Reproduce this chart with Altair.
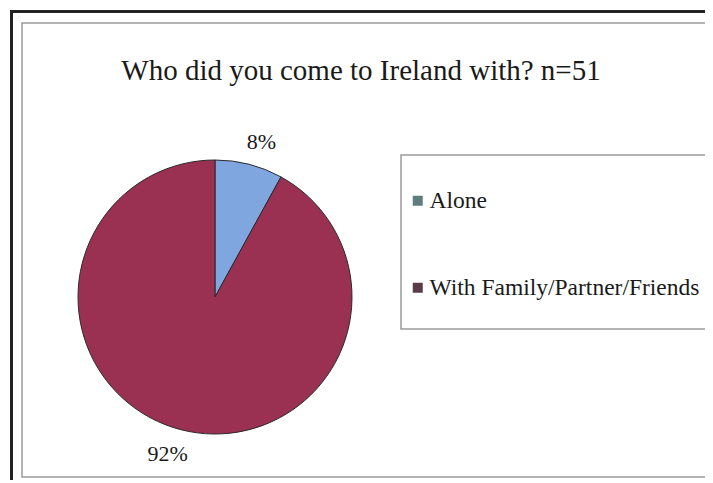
import altair as alt
import pandas as pd

categories = ["Alone", "With Family/Partner/Friends"]
percents = [8, 92]
labels = ["8%", "92%"]
slice_colors = ["#7fa6df", "#9b3152"]
swatch_colors = ["#5f7d7e", "#5b3a49"]

df = pd.DataFrame({"cat": categories, "pct": percents, "label": labels,
                   "order": [0, 1]})

W, H = 697, 472
CX, CY, R = 205, 289, 137
FONT = "Liberation Serif"

base = alt.Chart(df)

pie = base.mark_arc(stroke="#2a2a2a", strokeWidth=1, outerRadius=R).encode(
    theta=alt.Theta("pct:Q", stack=True),
    order=alt.Order("order:Q"),
    color=alt.Color("cat:N", scale=alt.Scale(domain=categories, range=slice_colors), legend=None),
    x=alt.value(CX), y=alt.value(CY),
)

# mid-angle of each slice, computed from the data
text_base = base.transform_window(
    cum="sum(pct)", sort=[alt.SortField("order")], frame=[None, 0]
).transform_calculate(mid="datum.cum - datum.pct / 2")


def label_layer(idx, dx, dy):
    return text_base.transform_filter(alt.datum.order == idx).mark_text(
        radius=162, font=FONT, fontSize=22, color="#1a1a1a", baseline="middle", dx=dx, dy=dy
    ).encode(
        theta=alt.Theta("mid:Q", stack=None, scale=alt.Scale(domain=[0, 100])),
        text="label:N",
        x=alt.value(CX), y=alt.value(CY),
    )


lab_alone = label_layer(0, 6, 2)
lab_family = label_layer(1, -7, 0)

legend_layer = base.mark_square(opacity=0, size=1).encode(
    x=alt.value(CX), y=alt.value(CY),
    fill=alt.Fill("cat:N", scale=alt.Scale(domain=categories, range=swatch_colors),
                  legend=alt.Legend(title=None, orient="none", legendX=396, legendY=181,
                                    symbolType="square", symbolSize=100, symbolOpacity=1,
                                    symbolStrokeWidth=0, labelFont=FONT, labelFontSize=23.5,
                                    labelColor="#1a1a1a", labelOffset=0, rowPadding=62,
                                    labelLimit=400)),
)

frame_dummy = pd.DataFrame({"k": [0]})
fb = alt.Chart(frame_dummy)
inner = fb.mark_rect(fill="white", stroke="#9a9a9a", strokeWidth=1.5).encode(
    x=alt.value(12), x2=alt.value(696), y=alt.value(15), y2=alt.value(469))
legbox = fb.mark_rect(fill="white", stroke="#9a9a9a", strokeWidth=1.5).encode(
    x=alt.value(391), x2=alt.value(696), y=alt.value(147), y2=alt.value(321))
top_line = fb.mark_rule(color="#222222", strokeWidth=3).encode(
    x=alt.value(0), x2=alt.value(697), y=alt.value(3.5))
left_line = fb.mark_rule(color="#222222", strokeWidth=3).encode(
    x=alt.value(1.5), y=alt.value(2), y2=alt.value(472))
title = fb.mark_text(text="Who did you come to Ireland with? n=51", font=FONT, fontSize=29,
                     color="#1a1a1a", align="center", baseline="alphabetic").encode(
    x=alt.value(351), y=alt.value(72))

chart = alt.layer(inner, legbox, top_line, left_line, title, pie, lab_alone, lab_family,
                  legend_layer).resolve_scale(
    color="independent", fill="independent", theta="independent"
).properties(
    width=W, height=H, padding=0,
    autosize=alt.AutoSizeParams(type="fit", contains="padding"),
    background="white",
).configure_view(stroke=None)

chart.save("out.html", embed_options={"renderer": "svg", "actions": False})
